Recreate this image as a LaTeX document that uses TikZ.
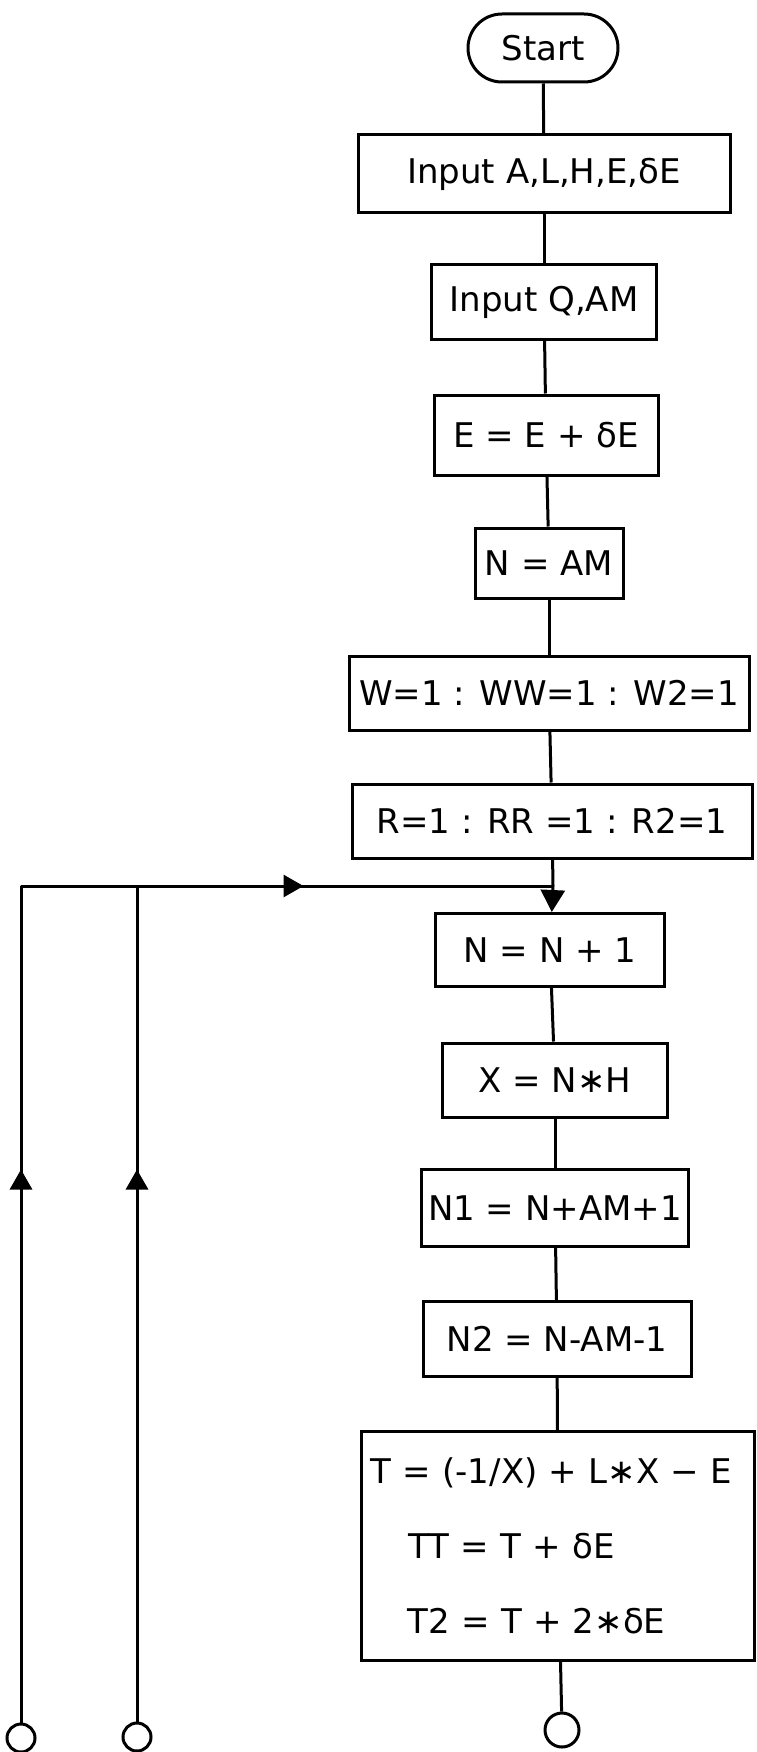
\documentclass[tikz,border=0pt]{standalone}
\usepackage{fontspec}
\setmainfont{DejaVu Sans}
\usepackage{tikz}
\usetikzlibrary{positioning, arrows.meta, calc, decorations.markings}

\tikzset{
  flowline/.style={line width=3pt, line join=round},
  procbox/.style={draw, line width=3pt, inner sep=0pt, font=\fontsize{34}{40}\selectfont},
  termbox/.style={procbox, rounded corners=34pt},
  connector/.style={draw, circle, line width=3pt, inner sep=0pt, minimum size=28pt},
  arrowat/.style={postaction={decorate, decoration={markings,
      mark=at position #1 with {\arrow{Triangle[width=22pt,length=20pt]}}}}}
}

\begin{document}
\begin{tikzpicture}[x=1pt, y=-1pt]
    \useasboundingbox (0,0) rectangle (756,1752);
    % set-up blocks
    \node[termbox, minimum width=150pt, minimum height=68pt] (start) at (543,48) {Start};
    \node[procbox, minimum width=372pt, minimum height=78pt] (inA) at (544,174) {Input A,L,H,E,δE};
    \node[procbox, minimum width=225pt, minimum height=75pt] (inQ) at (544,302) {Input Q,AM};
    \node[procbox, minimum width=224pt, minimum height=80pt] (incE) at (546,435) {E = E + δE};
    \node[procbox, minimum width=148pt, minimum height=70pt] (setN) at (549,563) {N = AM};
    \node[procbox, minimum width=400pt, minimum height=74pt] (initW) at (549,693) {W=1 : WW=1 : W2=1};
    \node[procbox, minimum width=400pt, minimum height=74pt] (initR) at (552,821) {R=1 : RR =1 : R2=1};
    % loop body
    \node[procbox, minimum width=229pt, minimum height=73pt] (stepN) at (550,950) {N = N + 1};
    \node[procbox, minimum width=225pt, minimum height=74pt] (setX) at (555,1080) {X = N∗H};
    \node[procbox, minimum width=267pt, minimum height=77pt] (setN1) at (555,1208) {N1 = N+AM+1};
    \node[procbox, minimum width=268pt, minimum height=75pt] (setN2) at (557,1339) {N2 = N-AM-1};
    \node[procbox, font=\fontsize{34}{75}\selectfont, text width=375pt, inner xsep=9pt,
          align=left, minimum height=229pt] (setT) at (558,1546)
          {T = (-1/X) + L∗X − E\\ \hspace*{38pt}TT = T + δE\\ \hspace*{37pt}T2 = T + 2∗δE};
    % connectors
    \node[connector, minimum size=34pt] (cont) at (562,1730) {};
    \node[connector] (retA) at (21,1738) {};
    \node[connector] (retB) at (137,1737) {};
    \coordinate (jn) at (553,886);
    \coordinate (cornerA) at (21,886);
    \coordinate (teeB) at (137,886);

    \draw[flowline] (start) -- (inA);
    \draw[flowline] (inA) -- (inQ);
    \draw[flowline] (inQ) -- (incE);
    \draw[flowline] (incE) -- (setN);
    \draw[flowline] (setN) -- (initW);
    \draw[flowline] (initW) -- (initR);
    \draw[flowline] (initR) -- (jn);
    \draw[flowline, -{Triangle[width=24pt,length=22pt]}] (jn) -- (stepN);
    \draw[flowline] (stepN) -- (setX);
    \draw[flowline] (setX) -- (setN1);
    \draw[flowline] (setN1) -- (setN2);
    \draw[flowline] (setN2) -- (setT);
    \draw[flowline] (setT) -- (cont);
    % return paths
    \draw[flowline, arrowat=553pt, arrowat=1119pt] (retA) -- (cornerA) -- (jn);
    \draw[flowline, arrowat=552pt] (retB) -- (teeB);
\end{tikzpicture}
\end{document}
